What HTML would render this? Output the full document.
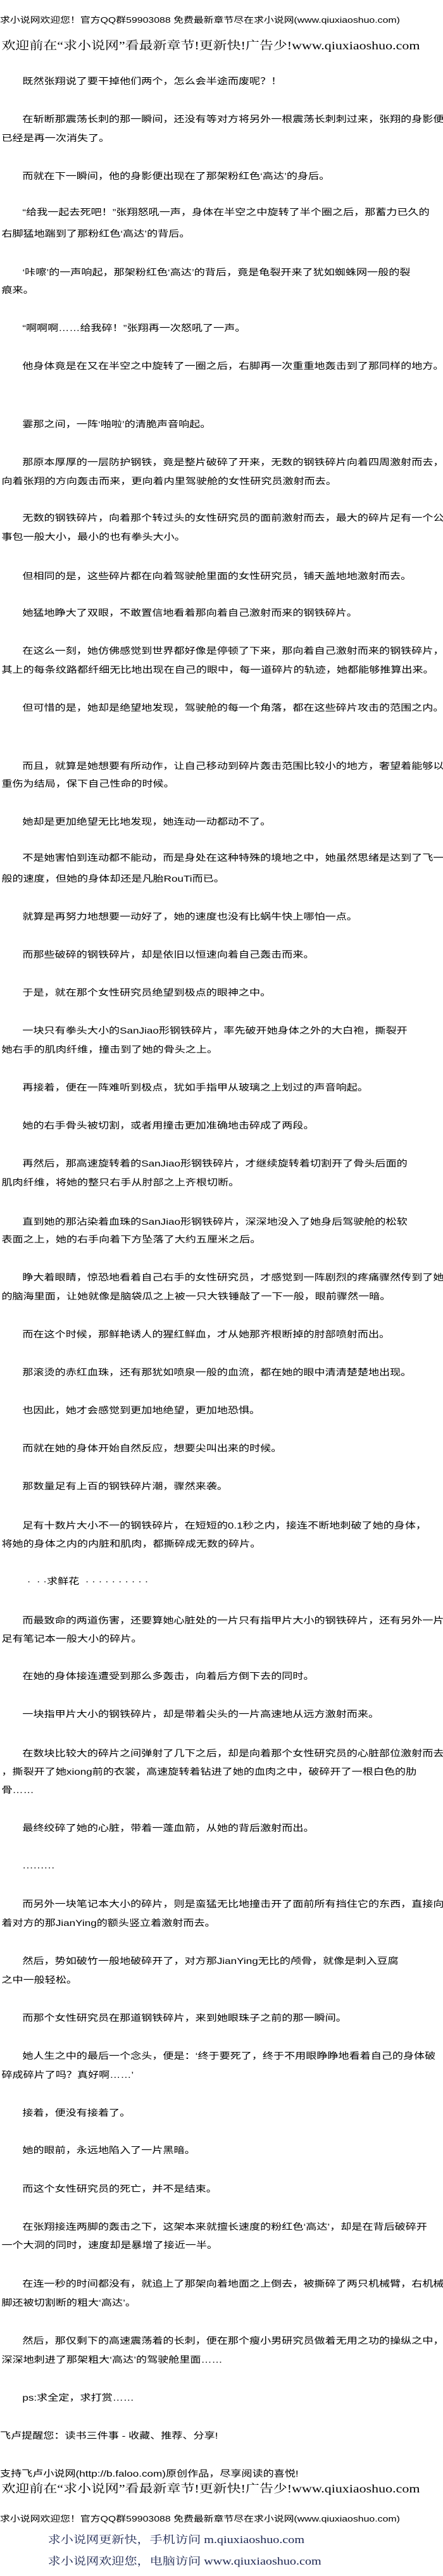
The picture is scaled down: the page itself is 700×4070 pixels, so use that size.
<!DOCTYPE html>
<html><head><meta charset="utf-8">
<style>
html,body{margin:0;padding:0;background:#fff;}
body{width:700px;height:4070px;overflow:hidden;position:relative;}
#w{position:absolute;left:0;top:0;width:574px;height:4070px;transform:scaleX(1.22);transform-origin:0 0;
font-family:"Liberation Sans","Noto Sans CJK SC",sans-serif;color:#000;}
#w div{position:absolute;white-space:nowrap;font-size:14px;line-height:16px;}
.i{left:29px;}
.n{left:2px;}
.h1{font-size:13px!important;left:0;}
.h2{font-size:18px!important;line-height:20px!important;left:2px;font-family:"Liberation Serif","Noto Serif CJK SC",serif;}
.b{font-size:16.5px!important;line-height:20px!important;left:62px;color:#1b2550;font-family:"Liberation Serif","Noto Serif CJK SC",serif;}
</style></head><body><div id="w">
<div class="h1" style="top:24px">求小说网欢迎您！官方QQ群59903088 免费最新章节尽在求小说网(www.qiuxiaoshuo.com)</div>
<div class="h2" style="top:62px">欢迎前在“求小说网”看最新章节!更新快!广告少!www.qiuxiaoshuo.com</div>

<div class="i" style="top:120px">既然张翔说了要干掉他们两个，怎么会半途而废呢？！</div>
<div class="i" style="top:180px">在斩断那震荡长刺的那一瞬间，还没有等对方将另外一根震荡长刺刺过来，张翔的身影便</div>
<div class="n" style="top:210px">已经是再一次消失了。</div>
<div class="i" style="top:270px">而就在下一瞬间，他的身影便出现在了那架粉红色‘高达’的身后。</div>
<div class="i" style="top:327px">“给我一起去死吧！”张翔怒吼一声，身体在半空之中旋转了半个圈之后，那蓄力已久的</div>
<div class="n" style="top:361px">右脚猛地踹到了那粉红色‘高达’的背后。</div>
<div class="i" style="top:422px">‘咔嚓’的一声响起，那架粉红色‘高达’的背后，竟是龟裂开来了犹如蜘蛛网一般的裂</div>
<div class="n" style="top:450px">痕来。</div>
<div class="i" style="top:510px">“啊啊啊……给我碎！”张翔再一次怒吼了一声。</div>
<div class="i" style="top:570px">他身体竟是在又在半空之中旋转了一圈之后，右脚再一次重重地轰击到了那同样的地方。</div>
<div class="i" style="top:662px">霎那之间，一阵‘啪啦’的清脆声音响起。</div>
<div class="i" style="top:722px">那原本厚厚的一层防护钢铁，竟是整片破碎了开来，无数的钢铁碎片向着四周激射而去，</div>
<div class="n" style="top:752px">向着张翔的方向轰击而来，更向着内里驾驶舱的女性研究员激射而去。</div>
<div class="i" style="top:810px">无数的钢铁碎片，向着那个转过头的女性研究员的面前激射而去，最大的碎片足有一个公</div>
<div class="n" style="top:840px">事包一般大小，最小的也有拳头大小。</div>
<div class="i" style="top:902px">但相同的是，这些碎片都在向着驾驶舱里面的女性研究员，铺天盖地地激射而去。</div>
<div class="i" style="top:960px">她猛地睁大了双眼，不敢置信地看着那向着自己激射而来的钢铁碎片。</div>
<div class="i" style="top:1020px">在这么一刻，她仿佛感觉到世界都好像是停顿了下来，那向着自己激射而来的钢铁碎片，</div>
<div class="n" style="top:1050px">其上的每条纹路都纤细无比地出现在自己的眼中，每一道碎片的轨迹，她都能够推算出来。</div>
<div class="i" style="top:1110px">但可惜的是，她却是绝望地发现，驾驶舱的每一个角落，都在这些碎片攻击的范围之内。</div>
<div class="i" style="top:1202px">而且，就算是她想要有所动作，让自己移动到碎片轰击范围比较小的地方，奢望着能够以</div>
<div class="n" style="top:1230px">重伤为结局，保下自己性命的时候。</div>
<div class="i" style="top:1290px">她却是更加绝望无比地发现，她连动一动都动不了。</div>
<div class="i" style="top:1347px">不是她害怕到连动都不能动，而是身处在这种特殊的境地之中，她虽然思绪是达到了飞一</div>
<div class="n" style="top:1380px">般的速度，但她的身体却还是凡胎RouTi而已。</div>
<div class="i" style="top:1440px">就算是再努力地想要一动好了，她的速度也没有比蜗牛快上哪怕一点。</div>
<div class="i" style="top:1500px">而那些破碎的钢铁碎片，却是依旧以恒速向着自己轰击而来。</div>
<div class="i" style="top:1560px">于是，就在那个女性研究员绝望到极点的眼神之中。</div>
<div class="i" style="top:1620px">一块只有拳头大小的SanJiao形钢铁碎片，率先破开她身体之外的大白袍，撕裂开</div>
<div class="n" style="top:1650px">她右手的肌肉纤维，撞击到了她的骨头之上。</div>
<div class="i" style="top:1710px">再接着，便在一阵难听到极点，犹如手指甲从玻璃之上划过的声音响起。</div>
<div class="i" style="top:1770px">她的右手骨头被切割，或者用撞击更加准确地击碎成了两段。</div>
<div class="i" style="top:1830px">再然后，那高速旋转着的SanJiao形钢铁碎片，才继续旋转着切割开了骨头后面的</div>
<div class="n" style="top:1860px">肌肉纤维，将她的整只右手从肘部之上齐根切断。</div>
<div class="i" style="top:1922px">直到她的那沾染着血珠的SanJiao形钢铁碎片，深深地没入了她身后驾驶舱的松软</div>
<div class="n" style="top:1950px">表面之上，她的右手向着下方坠落了大约五厘米之后。</div>
<div class="i" style="top:2010px">睁大着眼睛，惊恐地看着自己右手的女性研究员，才感觉到一阵剧烈的疼痛骤然传到了她</div>
<div class="n" style="top:2040px">的脑海里面，让她就像是脑袋瓜之上被一只大铁锤敲了一下一般，眼前骤然一暗。</div>
<div class="i" style="top:2100px">而在这个时候，那鲜艳诱人的猩红鲜血，才从她那齐根断掉的肘部喷射而出。</div>
<div class="i" style="top:2160px">那滚烫的赤红血珠，还有那犹如喷泉一般的血流，都在她的眼中清清楚楚地出现。</div>
<div class="i" style="top:2220px">也因此，她才会感觉到更加地绝望，更加地恐惧。</div>
<div class="i" style="top:2280px">而就在她的身体开始自然反应，想要尖叫出来的时候。</div>
<div class="i" style="top:2340px">那数量足有上百的钢铁碎片潮，骤然来袭。</div>
<div class="i" style="top:2402px">足有十数片大小不一的钢铁碎片，在短短的0.1秒之内，接连不断地刺破了她的身体，</div>
<div class="n" style="top:2431px">将她的身体之内的内脏和肌肉，都撕碎成无数的碎片。</div>
<div style="top:2490px;left:35px">·&nbsp;&nbsp;·&nbsp;·求鲜花&nbsp;&nbsp;·&nbsp;·&nbsp;·&nbsp;·&nbsp;·&nbsp;·&nbsp;·&nbsp;·&nbsp;·&nbsp;·</div>
<div class="i" style="top:2552px">而最致命的两道伤害，还要算她心脏处的一片只有指甲片大小的钢铁碎片，还有另外一片</div>
<div class="n" style="top:2581px">足有笔记本一般大小的碎片。</div>
<div class="i" style="top:2640px">在她的身体接连遭受到那么多轰击，向着后方倒下去的同时。</div>
<div class="i" style="top:2700px">一块指甲片大小的钢铁碎片，却是带着尖头的一片高速地从远方激射而来。</div>
<div class="i" style="top:2762px">在数块比较大的碎片之间弹射了几下之后，却是向着那个女性研究员的心脏部位激射而去</div>
<div class="n" style="top:2791px">，撕裂开了她xiong前的衣裳，高速旋转着钻进了她的血肉之中，破碎开了一根白色的肋</div>
<div class="n" style="top:2820px">骨……</div>
<div class="i" style="top:2880px">最终绞碎了她的心脏，带着一蓬血箭，从她的背后激射而出。</div>
<div class="i" style="top:2942px">·········</div>
<div class="i" style="top:3000px">而另外一块笔记本大小的碎片，则是蛮猛无比地撞击开了面前所有挡住它的东西，直接向</div>
<div class="n" style="top:3030px">着对方的那JianYing的额头竖立着激射而去。</div>
<div class="i" style="top:3090px">然后，势如破竹一般地破碎开了，对方那JianYing无比的颅骨，就像是刺入豆腐</div>
<div class="n" style="top:3120px">之中一般轻松。</div>
<div class="i" style="top:3180px">而那个女性研究员在那道钢铁碎片，来到她眼珠子之前的那一瞬间。</div>
<div class="i" style="top:3240px">她人生之中的最后一个念头，便是：‘终于要死了，终于不用眼睁睁地看着自己的身体破</div>
<div class="n" style="top:3270px">碎成碎片了吗？真好啊……’</div>
<div class="i" style="top:3330px">接着，便没有接着了。</div>
<div class="i" style="top:3389px">她的眼前，永远地陷入了一片黑暗。</div>
<div class="i" style="top:3450px">而这个女性研究员的死亡，并不是结束。</div>
<div class="i" style="top:3510px">在张翔接连两脚的轰击之下，这架本来就擅长速度的粉红色‘高达’，却是在背后破碎开</div>
<div class="n" style="top:3539px">一个大洞的同时，速度却是暴增了接近一半。</div>
<div class="i" style="top:3600px">在连一秒的时间都没有，就追上了那架向着地面之上倒去，被撕碎了两只机械臂，右机械</div>
<div class="n" style="top:3630px">脚还被切割断的粗大‘高达’。</div>
<div class="i" style="top:3690px">然后，那仅剩下的高速震荡着的长刺，便在那个瘦小男研究员做着无用之功的操纵之中，</div>
<div class="n" style="top:3720px">深深地刺进了那架粗大‘高达’的驾驶舱里面……</div>
<div class="i" style="top:3780px">ps:求全定，求打赏……</div>
<div class="n" style="top:3840px;left:0">飞卢提醒您：读书三件事 - 收藏、推荐、分享!</div>
<div class="n" style="top:3900px;left:0">支持飞卢小说网(http://b.faloo.com)原创作品，尽享阅读的喜悦!</div>
<div class="h2" style="top:3922px">欢迎前在“求小说网”看最新章节!更新快!广告少!www.qiuxiaoshuo.com</div>
<div class="h1" style="top:3972px">求小说网欢迎您！官方QQ群59903088 免费最新章节尽在求小说网(www.qiuxiaoshuo.com)</div>
<div class="b" style="top:4003px">求小说网更新快，手机访问 m.qiuxiaoshuo.com</div>
<div class="b" style="top:4037px">求小说网欢迎您，电脑访问 www.qiuxiaoshuo.com</div>
</div></body></html>
